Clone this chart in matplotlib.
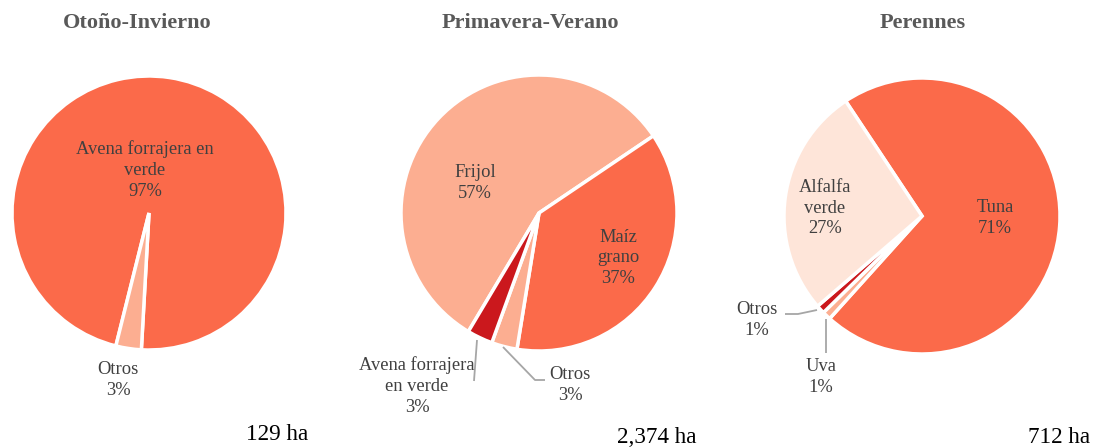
import matplotlib
matplotlib.use("Agg")
import matplotlib.pyplot as plt

W, H = 1094, 448

titles = ["Otoño-Invierno", "Primavera-Verano", "Perennes"]
totals = ["129 ha", "2,374 ha", "712 ha"]

oi_labels = ["Avena forrajera en\nverde", "Otros"]
oi_values = [97, 3]

pv_labels = ["Frijol", "Maíz\ngrano", "Otros", "Avena forrajera\nen verde"]
pv_values = [57, 37, 3, 3]

per_labels = ["Tuna", "Uva", "Otros", "Alfalfa\nverde"]
per_values = [71, 1, 1, 27]

C_MAIN = "#FB6A4A"
C_LIGHT = "#FCAE91"
C_DARK = "#CB181D"
C_PALE = "#FEE5D9"
TXT = "#404040"
LINE = "#A6A6A6"

plt.rcParams['font.family'] = ['Liberation Serif', 'DejaVu Serif']

fig = plt.figure(figsize=(W / 100, H / 100), dpi=100)
ax = fig.add_axes([0, 0, 1, 1])


def Y(py):
    return H - py


def pie(values, colors, center, r, start):
    ax.pie(values, colors=colors, center=(center[0], Y(center[1])), radius=r,
           startangle=start, counterclock=False, frame=True,
           wedgeprops=dict(edgecolor="white", linewidth=2.5))


def pct(v):
    return f"{v}%"


# Pie 1
pie(oi_values, [C_MAIN, C_LIGHT], (149, 213), 137, 256)
# Pie 2
pie(pv_values, [C_LIGHT, C_MAIN, C_LIGHT, C_DARK], (539, 213), 138, 239.2)
# Pie 3
pie(per_values, [C_MAIN, C_LIGHT, C_DARK, C_PALE], (922, 216), 138, 123.6)

ax.set_xlim(0, W)
ax.set_ylim(0, H)
ax.set_aspect("equal")
ax.axis("off")

lab_kw = dict(ha="center", va="center", fontsize=13.3, color=TXT, linespacing=1.3)

# Data labels
ax.text(145, Y(170), f"{oi_labels[0]}\n{pct(oi_values[0])}", **lab_kw)
ax.text(118, Y(380), f"{oi_labels[1]}\n{pct(oi_values[1])}", **lab_kw)

ax.text(475, Y(183), f"{pv_labels[0]}\n{pct(pv_values[0])}", **lab_kw)
ax.text(618, Y(258), f"{pv_labels[1]}\n{pct(pv_values[1])}", **lab_kw)
ax.text(570, Y(385), f"{pv_labels[2]}\n{pct(pv_values[2])}", **lab_kw)
ax.text(417, Y(386), f"{pv_labels[3]}\n{pct(pv_values[3])}", **lab_kw)

ax.text(995, Y(218), f"{per_labels[0]}\n{pct(per_values[0])}", **lab_kw)
ax.text(821, Y(377), f"{per_labels[1]}\n{pct(per_values[1])}", **lab_kw)
ax.text(757, Y(320), f"{per_labels[2]}\n{pct(per_values[2])}", **lab_kw)
ax.text(825, Y(208), f"{per_labels[3]}\n{pct(per_values[3])}", **lab_kw)

# Leader lines
lk = dict(color=LINE, linewidth=1.3, solid_capstyle="butt")
ax.plot([477, 474], [Y(340), Y(381)], **lk)
ax.plot([503, 535, 545], [Y(347), Y(380), Y(380)], **lk)
ax.plot([785, 798, 817], [Y(314), Y(314), Y(310)], **lk)
ax.plot([826, 826], [Y(319), Y(353)], **lk)

# Titles
for x, t in zip([137, 530, 923], titles):
    ax.text(x, Y(23), t, ha="center", va="center", fontsize=16,
            fontweight="bold", color="#595959")

# Totals
for x, y, t in zip([277, 657, 1059], [434, 437, 437], totals):
    ax.text(x, Y(y), t, ha="center", va="center", fontsize=16.7, color="black")

fig.savefig("out.png", dpi=100)
